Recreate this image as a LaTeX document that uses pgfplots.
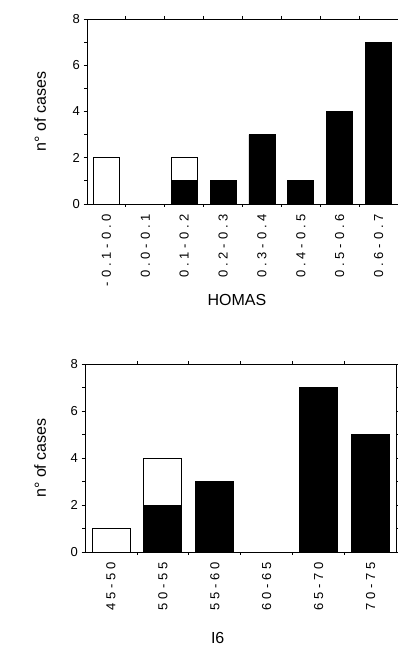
\documentclass[border=0pt]{standalone}
\usepackage{fontspec}
\setmainfont{Liberation Sans}
\newfontfamily\spaced[LetterSpace=30]{Liberation Sans}
\usepackage{pgfplots}
\pgfplotsset{compat=1.18}
\begin{document}
\begin{tikzpicture}
\useasboundingbox (0pt,0pt) rectangle (397pt,647pt);
\pgfplotsset{
  common/.style={
    scale only axis,
    /pgf/number format/assume math mode=true,
    axis line style={line width=0.9pt},
    ymin=0, ymax=8, ytick={0,2,4,6,8}, minor y tick num=1,
    tick align=outside,
    major tick length=3.5pt, minor tick length=3pt,
    tick style={black, line width=0.8pt},
    yticklabel style={font=\fontsize{13}{13}\selectfont},
    xticklabel style={font=\spaced\fontsize{13}{13}\selectfont, rotate=90, anchor=east},
    xticklabel shift=3pt,
    major x tick style={draw=none},
    ylabel={n\textdegree{} of cases},
    label style={font=\fontsize{16}{16}\selectfont},
    ybar, bar shift=0pt,
  }
}
% top chart
\begin{axis}[common,
  at={(87pt,443pt)}, anchor=south west,
  width=311pt, height=185pt,
  xmin=-0.5, xmax=7.5,
  xtick={0,...,7},
  minor xtick={0.5,1.5,...,6.5},
  bar width=26pt,
  xticklabels={-0.1-0.0,0.0-0.1,0.1-0.2,0.2-0.3,0.3-0.4,0.4-0.5,0.5-0.6,0.6-0.7},
  ylabel style={at={(axis description cs:-0.151,0.5)}, anchor=center},
  xlabel={HOMAS},
  xlabel style={at={(axis description cs:0.482,-0.519)}, anchor=center},
]
\addplot[draw=black, fill=white, line width=0.8pt] coordinates {(0,2) (2,2)};
\addplot[draw=black, fill=black, line width=0.8pt] coordinates {(2,1) (3,1) (4,3) (5,1) (6,4) (7,7)};
\end{axis}
% bottom chart
\begin{axis}[common,
  at={(85pt,95pt)}, anchor=south west,
  width=311.5pt, height=188pt,
  xmin=-0.5, xmax=5.5,
  xtick={0,...,5},
  minor xtick={0.5,1.5,...,4.5},
  bar width=38pt,
  xticklabels={45-50,50-55,55-60,60-65,65-70,70-75},
  ylabel style={at={(axis description cs:-0.144,0.5)}, anchor=center},
  xlabel={I6},
  xlabel style={at={(axis description cs:0.426,-0.455)}, anchor=center},
]
\addplot[draw=black, fill=white, line width=0.8pt] coordinates {(0,1) (1,4)};
\addplot[draw=black, fill=black, line width=0.8pt] coordinates {(1,2) (2,3) (4,7) (5,5)};
\end{axis}
\end{tikzpicture}
\end{document}
